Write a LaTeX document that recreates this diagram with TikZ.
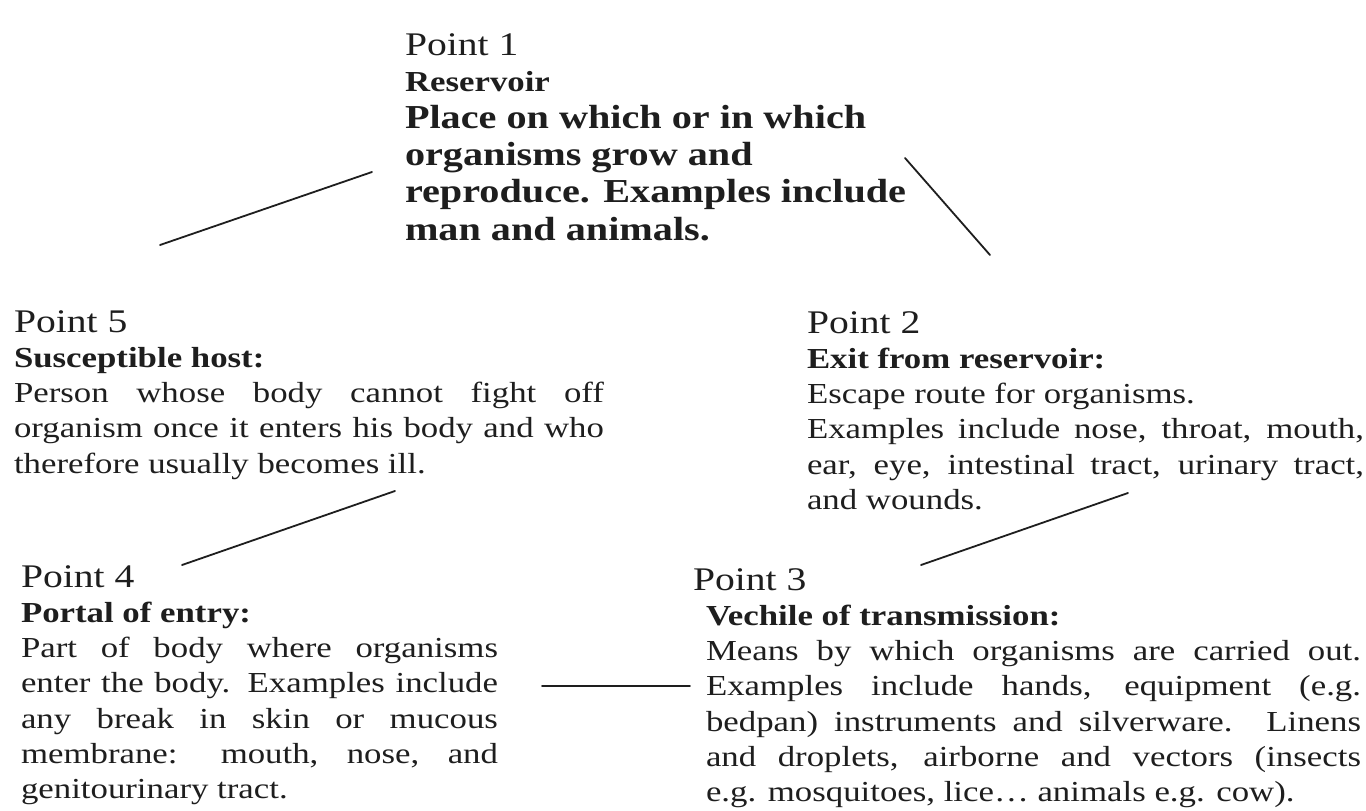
\documentclass[tikz,border=0pt]{standalone}
\usepackage{fontspec}
\setmainfont{Liberation Serif}[FakeStretch=1.2]
\definecolor{ink}{HTML}{1E1E1E}
\newcommand\fpoint{\fontsize{33}{35.3}\selectfont\mdseries}
\newcommand\fbody{\fontsize{29}{35.3}\selectfont}
\newcommand\fbig{\fontsize{33.5}{37.3}\selectfont\bfseries}
\newcommand\J[1]{\makebox[\linewidth][s]{#1}\par}
\begin{document}
\begin{tikzpicture}[x=1pt,y=-1pt,
  blk/.style={anchor=base west, inner sep=0pt, outer sep=0pt, text=ink},
  conn/.style={draw=ink, line width=1.8pt, line cap=round}]
\useasboundingbox[fill=white] (0,0) rectangle (1366,811);

% Point 1
\node[blk] (p1) at (405,55) {\parbox[t]{600pt}{\fpoint Point 1\par
  \fontsize{29}{36}\selectfont\bfseries Reservoir\par
  \fbig Place on which or in which\par
  organisms grow and\par
  reproduce. Examples include\par
  man and animals.\par}};

% Point 5
\node[blk] (p5) at (14,332) {\parbox[t]{590pt}{\fpoint Point 5\par
  \fbody\bfseries Susceptible host:\par
  \mdseries\J{Person whose body cannot fight off}%
  \J{organism once it enters his body and who}%
  therefore usually becomes ill.\par}};

% Point 2
\node[blk] (p2) at (807,333) {\parbox[t]{557pt}{\fpoint Point 2\par
  \fbody\bfseries Exit from reservoir:\par
  \mdseries Escape route for organisms.\par
  \J{Examples include nose, throat, mouth,}%
  \J{ear, eye, intestinal tract, urinary tract,}%
  and wounds.\par}};

% Point 4
\node[blk] (p4) at (21,587) {\parbox[t]{477pt}{\fpoint Point 4\par
  \fbody\bfseries Portal of entry:\par
  \mdseries\J{Part of body where organisms}%
  \J{enter the body. Examples include}%
  \J{any break in skin or mucous}%
  \J{membrane: mouth, nose, and}%
  genitourinary tract.\par}};

% Point 3
\node[blk] (p3) at (706,590) {\parbox[t]{655pt}{\fpoint\hspace*{-13pt}Point 3\par
  \fbody\bfseries Vechile of transmission:\par
  \mdseries\J{Means by which organisms are carried out.}%
  \J{Examples include hands, equipment (e.g.}%
  \J{bedpan) instruments and silverware. Linens}%
  \J{and droplets, airborne and vectors (insects}%
  e.g. mosquitoes, lice… animals e.g. cow).\par}};

% connector end points
\coordinate (c1a) at (160,245); \coordinate (c1b) at (372,172);
\coordinate (c2a) at (905,158); \coordinate (c2b) at (990,255);
\coordinate (c3a) at (182,565); \coordinate (c3b) at (395,491);
\coordinate (c4a) at (921,565); \coordinate (c4b) at (1128,493);
\coordinate (c5a) at (542,686); \coordinate (c5b) at (690,686);

\draw[conn] (c1a) -- (c1b);
\draw[conn] (c2a) -- (c2b);
\draw[conn] (c3a) -- (c3b);
\draw[conn] (c4a) -- (c4b);
\draw[conn] (c5a) -- (c5b);
\end{tikzpicture}
\end{document}
